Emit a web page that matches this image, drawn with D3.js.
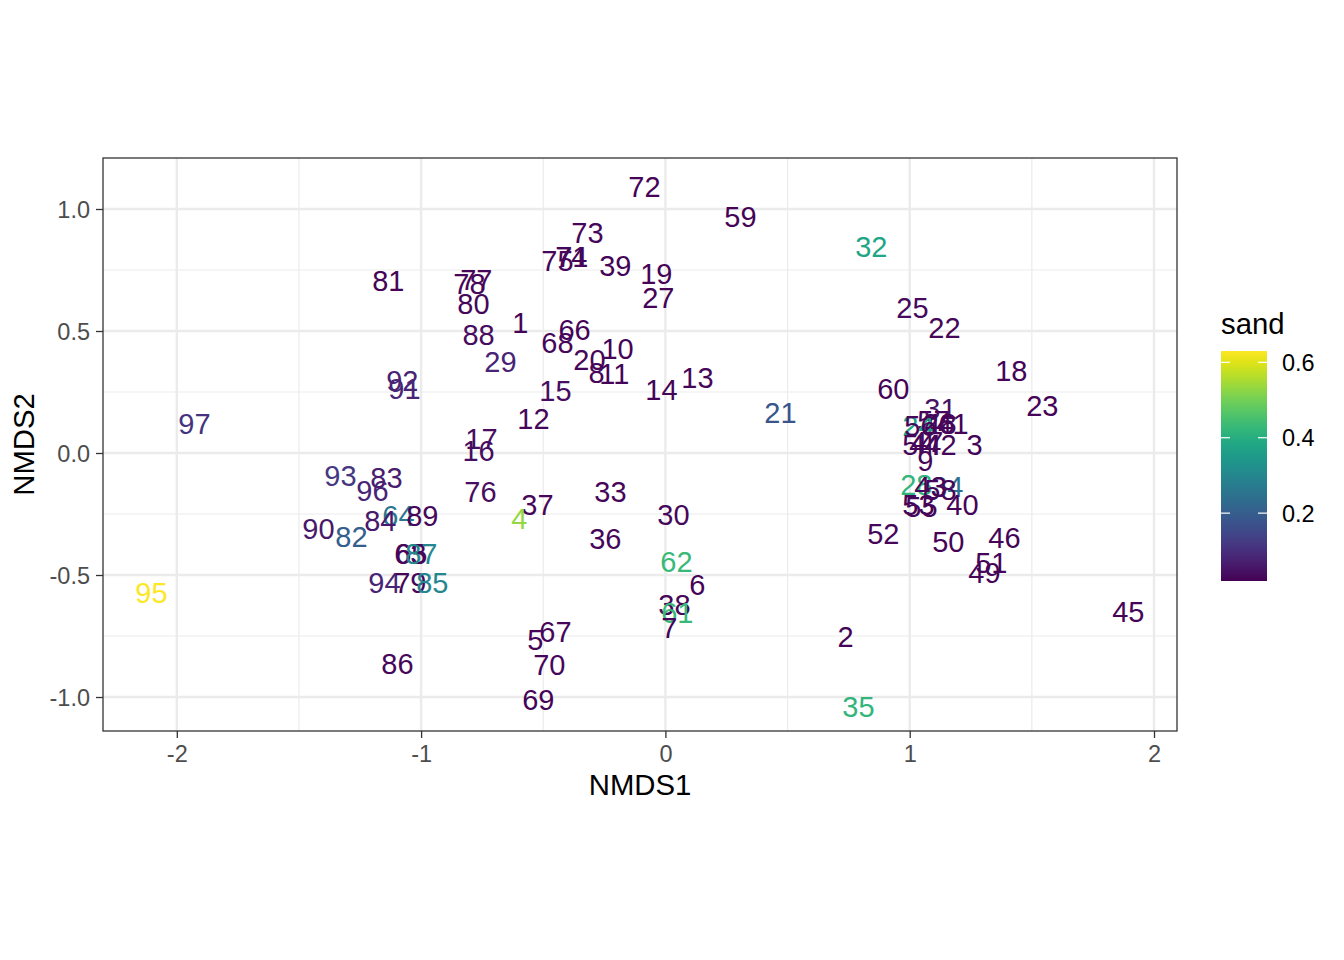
<!DOCTYPE html>
<html><head><meta charset="utf-8">
<script src="https://cdn.jsdelivr.net/npm/d3@7"></script>
<style>body{margin:0;background:#fff}svg{font-family:"Liberation Sans",Arial,sans-serif}</style>
</head><body>
<svg id="chart" width="1344" height="960"></svg>
<script>
const sites = ["72","59","73","32","74","71","75","39","19","81","77","78","27","80","25","1","22","66","88","68","10","29","20","18","8","11","13","92","91","60","14","15","23","31","21","12","97","57","48","41","24","56","26","17","16","54","44","47","42","3","9","93","83","96","28","34","58","43","76","33","37","53","55","40","30","64","89","84","4","90","82","52","36","50","46","63","65","87","62","51","49","94","79","85","95","6","38","61","45","7","67","5","2","86","70","69","35"];
const nmds1 = [-0.086,0.307,-0.319,0.843,-0.385,-0.381,-0.442,-0.205,-0.037,-1.134,-0.774,-0.802,-0.029,-0.786,1.011,-0.594,1.142,-0.372,-0.765,-0.442,-0.196,-0.675,-0.311,1.416,-0.282,-0.209,0.131,-1.077,-1.068,0.933,-0.016,-0.450,1.543,1.126,0.471,-0.540,-1.928,1.097,1.126,1.175,1.036,1.044,1.118,-0.753,-0.765,1.036,1.064,1.072,1.126,1.265,1.064,-1.330,-1.142,-1.199,1.027,1.154,1.126,1.085,-0.757,-0.225,-0.524,1.036,1.048,1.216,0.033,-1.093,-0.995,-1.167,-0.598,-1.420,-1.285,0.892,-0.246,1.158,1.388,-1.044,-1.040,-0.999,0.045,1.334,1.306,-1.150,-1.044,-0.954,-2.104,0.131,0.037,0.049,1.895,0.016,-0.450,-0.532,0.737,-1.097,-0.475,-0.520,0.790];
const nmds2 = [1.094,0.967,0.902,0.848,0.807,0.807,0.787,0.770,0.734,0.705,0.709,0.693,0.639,0.611,0.598,0.533,0.516,0.504,0.484,0.451,0.426,0.373,0.381,0.336,0.328,0.324,0.311,0.295,0.266,0.266,0.262,0.254,0.193,0.184,0.164,0.143,0.119,0.135,0.119,0.119,0.111,0.111,0.119,0.061,0.008,0.033,0.033,0.045,0.033,0.033,-0.033,-0.094,-0.102,-0.152,-0.131,-0.139,-0.148,-0.139,-0.160,-0.160,-0.213,-0.213,-0.221,-0.213,-0.254,-0.258,-0.258,-0.275,-0.270,-0.311,-0.344,-0.332,-0.352,-0.361,-0.348,-0.414,-0.414,-0.414,-0.443,-0.451,-0.488,-0.529,-0.529,-0.533,-0.570,-0.541,-0.623,-0.652,-0.648,-0.717,-0.730,-0.766,-0.754,-0.861,-0.865,-1.012,-1.041];
const sand = [0.025,0.025,0.03,0.38,0.025,0.03,0.03,0.025,0.025,0.025,0.03,0.03,0.025,0.03,0.035,0.025,0.03,0.025,0.04,0.03,0.025,0.08,0.03,0.025,0.03,0.025,0.03,0.08,0.08,0.025,0.025,0.04,0.025,0.05,0.18,0.03,0.11,0.03,0.03,0.025,0.38,0.03,0.03,0.04,0.04,0.03,0.03,0.03,0.03,0.025,0.03,0.12,0.07,0.08,0.42,0.25,0.03,0.03,0.04,0.03,0.03,0.025,0.03,0.025,0.03,0.26,0.03,0.06,0.53,0.06,0.20,0.03,0.03,0.025,0.025,0.03,0.03,0.30,0.43,0.025,0.025,0.08,0.03,0.30,0.63,0.025,0.03,0.43,0.025,0.025,0.03,0.025,0.025,0.03,0.03,0.025,0.42];
const xTicks = [-2,-1,0,1,2];
const yTicks = [-1.0,-0.5,0.0,0.5,1.0];
const legendTicks = [0.2,0.4,0.6];
const sandRange = [0.02,0.63];

const svg = d3.select("#chart");
const P = {l:103, r:1177, t:158, b:731};
const x = d3.scaleLinear().domain([-2.3021, 2.0941]).range([P.l, P.r]);
const y = d3.scaleLinear().domain([-1.1393, 1.2090]).range([P.b, P.t]);
const col = d3.scaleSequential(d3.interpolateViridis).domain(sandRange);
const fmt1 = v => d3.format(".1f")(v).replace("\u2212","-");

svg.append("rect").attr("x",P.l).attr("y",P.t).attr("width",P.r-P.l).attr("height",P.b-P.t).attr("fill","#fff");
const g = svg.append("g");
const xMinor = [-1.5,-0.5,0.5,1.5], yMinor = [-0.75,-0.25,0.25,0.75];
xMinor.forEach(v=>g.append("line").attr("x1",x(v)).attr("x2",x(v)).attr("y1",P.t).attr("y2",P.b).attr("stroke","#ebebeb").attr("stroke-width",1.2));
yMinor.forEach(v=>g.append("line").attr("y1",y(v)).attr("y2",y(v)).attr("x1",P.l).attr("x2",P.r).attr("stroke","#ebebeb").attr("stroke-width",1.2));
xTicks.forEach(v=>g.append("line").attr("x1",x(v)).attr("x2",x(v)).attr("y1",P.t).attr("y2",P.b).attr("stroke","#ebebeb").attr("stroke-width",2.4));
yTicks.forEach(v=>g.append("line").attr("y1",y(v)).attr("y2",y(v)).attr("x1",P.l).attr("x2",P.r).attr("stroke","#ebebeb").attr("stroke-width",2.4));

const data = sites.map((s,i)=>({s, a:nmds1[i], b:nmds2[i], c:sand[i]}));
svg.append("g").selectAll("text").data(data).join("text")
  .attr("x",d=>x(d.a)).attr("y",d=>y(d.b)).attr("dy","0.36em")
  .attr("text-anchor","middle").attr("font-size",29)
  .attr("fill",d=>col(d.c)).text(d=>d.s);

svg.append("rect").attr("x",P.l).attr("y",P.t).attr("width",P.r-P.l).attr("height",P.b-P.t).attr("fill","none").attr("stroke","#333").attr("stroke-width",1.3);

const xa = svg.append("g").attr("transform",`translate(0,${P.b})`)
  .call(d3.axisBottom(x).tickValues(xTicks).tickFormat(d=>String(d)).tickSize(7).tickSizeOuter(0));
const ya = svg.append("g").attr("transform",`translate(${P.l},0)`)
  .call(d3.axisLeft(y).tickValues(yTicks).tickFormat(fmt1).tickSize(7).tickSizeOuter(0));
[xa,ya].forEach(a=>{
  a.select(".domain").remove();
  a.selectAll(".tick line").attr("stroke","#333").attr("stroke-width",1.3);
  a.selectAll(".tick text").attr("fill","#4d4d4d").attr("font-size",23.5).attr("font-family","Liberation Sans, Arial, sans-serif");
});
xa.selectAll(".tick text").attr("y",13).attr("dy","0.75em");
ya.selectAll(".tick text").attr("x",-13).attr("dy","0.36em");

svg.append("text").attr("x",(P.l+P.r)/2).attr("y",795).attr("text-anchor","middle").attr("font-size",29.3).text("NMDS1");
svg.append("text").attr("transform",`translate(34,${(P.t+P.b)/2}) rotate(-90)`).attr("text-anchor","middle").attr("font-size",29.3).text("NMDS2");

const L = {x:1221, w:46, t:351, b:581};
const ly = d3.scaleLinear().domain(sandRange).range([L.b, L.t]);
const defs = svg.append("defs");
const grad = defs.append("linearGradient").attr("id","vir").attr("x1",0).attr("x2",0).attr("y1",1).attr("y2",0);
d3.range(0,1.0001,0.05).forEach(t=>grad.append("stop").attr("offset",t).attr("stop-color",d3.interpolateViridis(t)));
svg.append("text").attr("x",L.x).attr("y",334).attr("font-size",29.3).text("sand");
svg.append("rect").attr("x",L.x).attr("y",L.t).attr("width",L.w).attr("height",L.b-L.t).attr("fill","url(#vir)");
legendTicks.forEach(v=>{
  const yy = ly(v);
  svg.append("line").attr("x1",L.x).attr("x2",L.x+9).attr("y1",yy).attr("y2",yy).attr("stroke","#fff").attr("stroke-width",1.2);
  svg.append("line").attr("x1",L.x+L.w-9).attr("x2",L.x+L.w).attr("y1",yy).attr("y2",yy).attr("stroke","#fff").attr("stroke-width",1.2);
  svg.append("text").attr("x",1282).attr("y",yy).attr("dy","0.36em").attr("font-size",23.5).attr("fill","#000").text(fmt1(v));
});
</script>
</body></html>
